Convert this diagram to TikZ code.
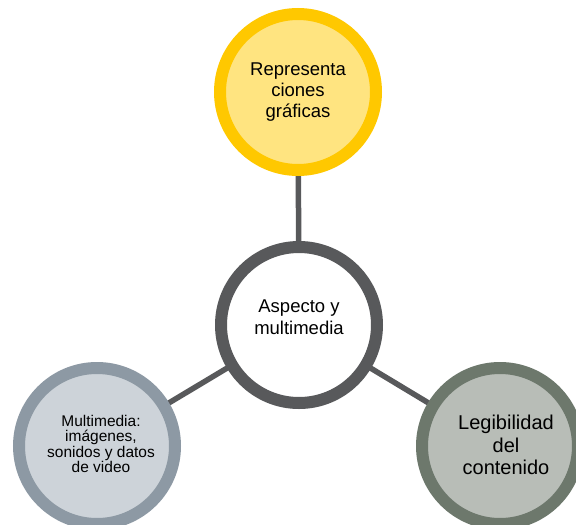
\documentclass[tikz,border=0pt]{standalone}
\usepackage{fontspec}
\setmainfont{Liberation Sans}
\definecolor{oro}{HTML}{FFC800}
\definecolor{oroclaro}{HTML}{FFE480}
\definecolor{gris}{HTML}{58595B}
\definecolor{azulgris}{HTML}{8D99A4}
\definecolor{azulclaro}{HTML}{CDD3D9}
\definecolor{verdegris}{HTML}{6D786C}
\definecolor{verdeclaro}{HTML}{B8BDB7}
\tikzset{
    burbuja/.style={circle, draw, line width=12pt, minimum size=156pt, inner sep=0pt},
    enlace/.style={draw=gris, line width=5.5pt}
}
\begin{document}
\begin{tikzpicture}[x=1pt, y=-1pt]
\useasboundingbox (0,0) rectangle (576,525);
% lineas detras de los circulos
\coordinate (c0) at (299,325);
\coordinate (c1) at (298,92);
\coordinate (c2) at (97,446);
\coordinate (c3) at (500,446);
\draw[enlace](c0)--(c1);
\draw[enlace](c0)--(c2);
\draw[enlace](c0)--(c3);
\node[burbuja, draw=oro, fill=oroclaro](grafica) at (c1){};
\node[burbuja, draw=gris, fill=white](aspecto) at (c0){};
\node[burbuja, draw=azulgris, fill=azulclaro](multimedia) at (c2){};
\node[burbuja, draw=verdegris, fill=verdeclaro](legibilidad) at (c3){};
% textos
\node[align=center, font=\fontsize{18.5}{20.8}\selectfont](t-grafica) at (298,92) {Representa\\ciones\\gráficas};
\node[align=center, font=\fontsize{18.5}{22.5}\selectfont](t-aspecto) at (299,317) {Aspecto y\\multimedia};
\node[align=center, font=\fontsize{15.5}{15.6}\selectfont](t-multimedia) at (101,444) {Multimedia:\\imágenes,\\sonidos y datos\\de video};
\node[align=center, font=\fontsize{20}{22.5}\selectfont](t-legibilidad) at (506,445) {Legibilidad\\del\\contenido};
\end{tikzpicture}
\end{document}
